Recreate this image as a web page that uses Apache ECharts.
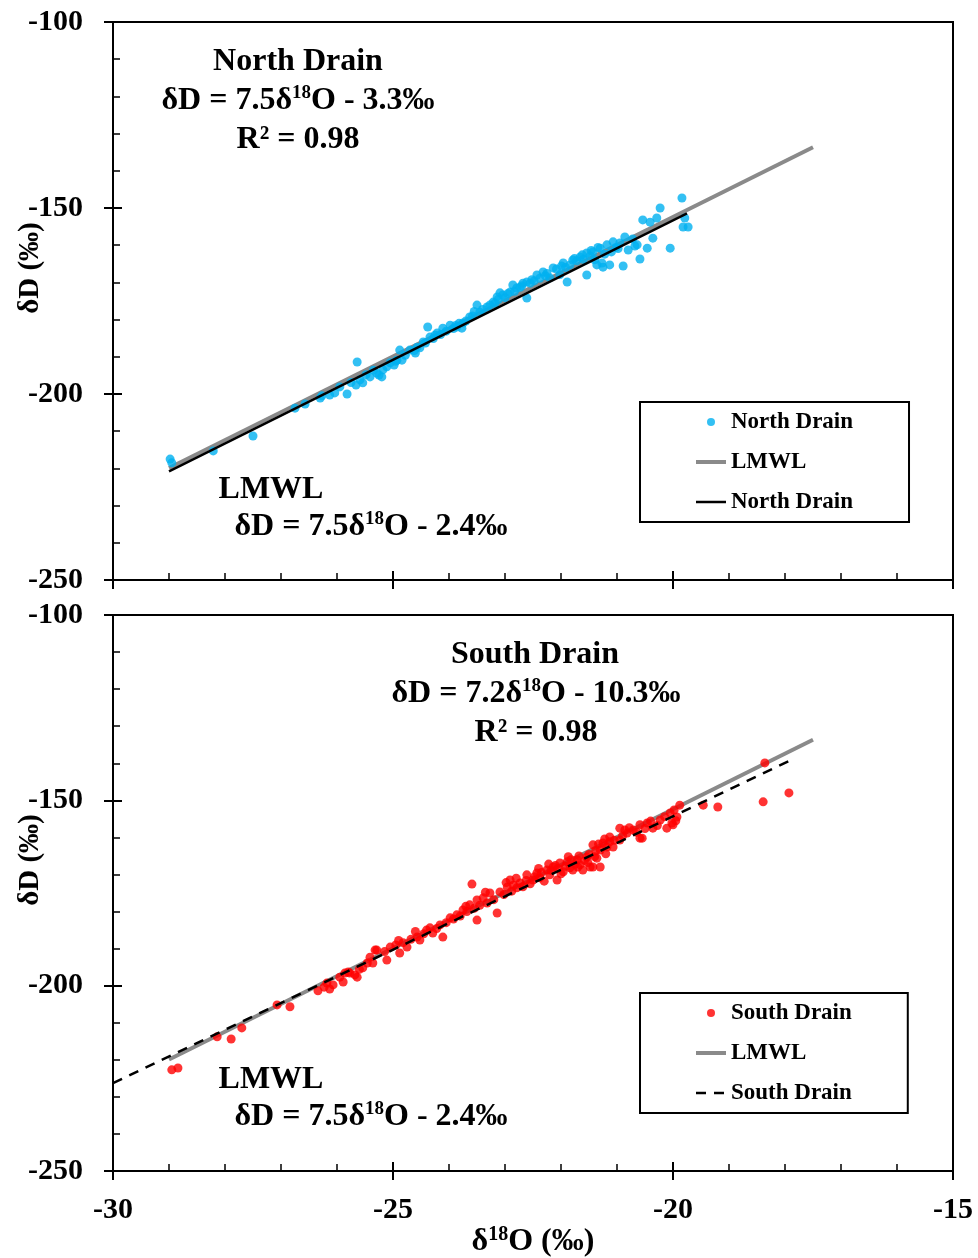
<!DOCTYPE html>
<html>
<head>
<meta charset="utf-8">
<script src="https://cdn.jsdelivr.net/npm/echarts@6/dist/echarts.min.js"></script>
<style>
  html, body { margin: 0; padding: 0; background: #fff; }
  #chart { width: 978px; height: 1258px; }
</style>
</head>
<body>
<div id="chart"></div>
<script>
// Stable isotope data (δ18O ‰, δD ‰) for the two drains
const northDrain = [
  [-28.98,-217.5],[-28.95,-218.5],[-28.21,-215.3],[-27.50,-211.3],[-26.75,-203.8],[-26.57,-202.7],
  [-26.30,-201.1],[-26.27,-200.5],[-26.13,-200.3],[-26.04,-199.7],[-25.82,-200.0],[-25.66,-197.6],
  [-25.64,-191.4],[-25.54,-197.0],[-25.59,-196.2],[-25.41,-195.4],[-25.29,-194.4],[-25.20,-195.4],
  [-25.18,-193.5],[-25.11,-192.7],[-24.93,-190.9],[-24.88,-188.2],[-24.84,-190.9],[-24.70,-188.2],
  [-24.57,-187.4],[-24.46,-186.0],[-24.38,-182.0],[-24.34,-184.7],[-24.21,-183.6],[-24.11,-182.3],
  [-23.98,-181.5],[-23.86,-182.0],[-23.77,-182.3],[-23.75,-180.9],[-23.63,-179.3],[-23.50,-176.1],
  [-23.45,-178.0],[-23.32,-176.6],[-23.21,-175.3],[-23.14,-173.9],[-23.09,-172.8],[-23.04,-173.4],
  [-22.91,-172.6],[-22.79,-171.5],[-22.68,-170.2],[-22.61,-174.2],[-22.86,-170.7],[-22.61,-169.9],
  [-22.43,-168.0],[-22.32,-167.2],[-22.14,-166.1],[-21.96,-164.8],[-21.89,-169.9],[-21.79,-164.0],
  [-21.66,-163.2],[-21.54,-162.1],[-21.54,-168.0],[-21.43,-161.8],[-21.36,-165.3],[-21.30,-160.8],
  [-21.25,-165.9],[-21.18,-159.9],[-21.13,-165.3],[-21.07,-159.1],[-20.89,-165.6],[-20.86,-157.8],
  [-20.80,-161.3],[-20.64,-159.9],[-20.59,-163.7],[-20.54,-153.2],[-20.46,-160.8],[-20.41,-153.8],
  [-20.36,-158.1],[-20.29,-152.7],[-20.23,-150.0],[-20.05,-160.8],[-19.84,-147.3],[-19.79,-152.7],
  [-19.82,-155.1],[-19.73,-155.1],
  [-25.95,-198.1],[-25.75,-196.9],[-25.48,-194.8],[-25.35,-193.6],[-25.05,-191.6],[-24.95,-191.2],
  [-24.78,-189.6],[-24.62,-188.3],[-24.52,-187.6],[-24.42,-186.3],[-24.28,-185.1],[-24.15,-184.0],
  [-24.05,-183.1],[-23.92,-182.4],[-23.82,-181.0],[-23.70,-180.4],[-23.58,-179.0],[-23.40,-177.3],
  [-23.27,-176.1],[-23.18,-175.6],[-23.00,-174.1],[-22.95,-173.0],[-22.83,-172.4],[-22.73,-171.3],
  [-22.55,-170.2],[-22.48,-169.6],[-22.38,-168.9],[-22.25,-167.6],[-22.20,-168.8],[-22.08,-166.4],
  [-22.02,-167.9],[-21.92,-166.0],[-21.84,-165.3],[-21.72,-164.2],[-21.60,-163.8],[-21.48,-162.9],
  [-21.40,-163.9],[-21.22,-162.4],[-21.02,-160.6],[-20.95,-159.4],[-20.72,-158.3],[-20.68,-160.2],
  [-25.25,-194.9],[-24.98,-192.2],[-24.60,-189.0],[-24.25,-184.2],[-23.88,-181.6],[-23.55,-177.8],
  [-23.12,-174.6],[-22.70,-170.9],[-22.52,-169.3],[-22.28,-168.2],[-21.99,-165.6],[-21.76,-163.6],
  [-21.62,-162.6],[-21.46,-161.4],[-21.34,-160.6],[-21.27,-164.8],[-21.10,-161.8],[-20.98,-160.9]
];

const southDrain = [
  [-28.95,-222.7],[-28.84,-222.2],[-28.14,-213.8],[-27.89,-214.4],[-27.70,-211.4],[-27.07,-205.2],
  [-26.84,-205.7],[-26.34,-201.4],[-26.23,-200.4],[-26.18,-199.3],[-26.13,-200.9],[-26.07,-199.8],
  [-25.89,-199.0],[-25.86,-196.6],[-25.80,-196.3],[-25.68,-197.1],[-25.54,-195.2],[-25.36,-193.9],
  [-25.11,-193.1],[-25.41,-192.3],[-25.32,-190.4],[-25.95,-197.7],[-25.77,-196.6],[-25.64,-197.7],
  [-25.46,-193.9],[-25.29,-190.4],[-25.05,-189.6],[-24.88,-191.2],[-24.75,-189.6],[-24.57,-186.9],
  [-24.52,-187.7],[-24.34,-184.4],[-24.29,-185.8],[-24.11,-186.9],[-24.16,-183.6],[-23.98,-181.7],
  [-23.86,-180.9],[-23.75,-179.6],[-23.63,-178.2],[-23.59,-172.6],[-23.50,-176.9],[-23.50,-182.3],
  [-23.39,-176.3],[-23.32,-177.7],[-23.27,-175.0],[-23.14,-180.4],[-23.09,-174.7],[-22.96,-173.4],
  [-22.91,-171.5],[-22.79,-173.6],[-22.73,-172.3],[-22.61,-170.1],[-22.50,-171.5],[-22.43,-169.6],
  [-22.38,-170.9],[-22.25,-168.8],[-22.20,-170.1],[-22.14,-168.0],[-22.07,-171.5],[-22.02,-166.9],
  [-21.96,-169.3],[-21.89,-166.6],[-21.84,-168.2],[-21.79,-168.8],[-21.71,-166.1],[-21.66,-167.4],
  [-21.61,-168.8],[-21.54,-165.3],[-21.48,-168.0],[-21.43,-162.0],[-21.43,-168.0],[-21.36,-165.6],
  [-21.30,-163.4],[-21.30,-168.0],[-21.18,-162.6],[-21.13,-161.2],[-21.07,-162.6],[-20.95,-157.5],
  [-20.95,-160.7],[-20.82,-158.8],[-20.71,-158.0],[-20.59,-156.6],[-20.59,-160.2],[-20.46,-156.1],
  [-20.36,-157.5],[-20.23,-155.3],[-20.11,-157.5],[-20.05,-153.4],[-20.00,-156.6],[-19.93,-154.5],
  [-19.88,-151.3],[-19.46,-151.3],[-19.20,-151.8],[-18.36,-139.9],[-18.39,-150.4],[-17.93,-148.0],
  [-21.25,-161.5],[-21.13,-159.9],[-20.55,-160.2],[-20.02,-156.1],
  [-24.95,-189.0],[-24.82,-188.4],[-24.68,-187.5],[-24.45,-186.0],[-24.40,-185.0],[-24.22,-184.6],
  [-24.05,-183.0],[-23.92,-182.0],[-23.80,-181.2],[-23.68,-180.0],[-23.55,-179.1],[-23.45,-178.3],
  [-23.20,-176.8],[-23.02,-175.4],[-22.88,-174.5],[-22.85,-172.9],[-22.68,-173.3],[-22.55,-172.5],
  [-22.47,-170.6],[-22.35,-169.5],[-22.30,-171.8],[-22.18,-168.9],[-22.10,-167.6],[-22.00,-169.8],
  [-21.92,-167.8],[-21.82,-166.0],[-21.75,-167.2],[-21.68,-165.0],[-21.58,-166.2],[-21.50,-164.6],
  [-21.40,-165.2],[-21.33,-161.8],[-21.20,-164.4],[-21.05,-160.8],[-20.90,-159.6],[-20.78,-157.4],
  [-20.65,-158.6],[-20.50,-157.6],[-20.40,-155.6],[-20.28,-156.8],[-20.15,-154.4],[-19.98,-152.6],
  [-19.95,-155.5],
  [-22.98,-172.2],[-22.80,-171.0],[-22.62,-171.6],[-22.40,-168.4],[-22.22,-167.2],[-22.05,-168.4],
  [-21.87,-165.2],[-21.70,-168.0],[-21.52,-166.8],[-21.38,-163.6],[-21.22,-160.4],[-20.86,-158.0],
  [-23.70,-178.6],[-23.35,-174.8],[-24.60,-185.4],[-24.90,-187.8],[-25.15,-190.8],[-25.60,-195.6]
];

// Regression lines: slope, intercept and δ18O extent
const lmwlFit = { slope: 7.5, intercept: -2.4 };
const northFit = { slope: 7.5, intercept: -3.3 };
const southFit = { slope: 7.2, intercept: -10.3 };
const lmwlRange = [-29, -17.5];
const northFitRange = [-29, -19.75];
const southFitRange = [-30, -17.9];

// Axis ranges
const xRange = [-30, -15];
const xStep = 5;
const yRange = [-250, -100];
const yStep = 50;

const legendLabels = {
  'North Drain': 'North Drain',
  'LMWL (north)': 'LMWL',
  'North Drain fit': 'North Drain',
  'South Drain': 'South Drain',
  'LMWL (south)': 'LMWL',
  'South Drain fit': 'South Drain'
};

const FONT = "'Liberation Serif', 'Times New Roman', serif";

function fitLine(fit, range) {
  return range.map(x => [x, fit.slope * x + fit.intercept]);
}

const chart = echarts.init(document.getElementById('chart'), null, { renderer: 'canvas' });

const grids = [
  { left: 113, top: 22, width: 840, height: 558 },
  { left: 113, top: 615, width: 840, height: 556 }
];

const axisLineStyle = { color: '#000', width: 2 };

function mainX(gridIndex, showLabels) {
  return {
    type: 'value', gridIndex, position: 'bottom', min: xRange[0], max: xRange[1], interval: xStep,
    axisLine: { show: true, onZero: false, lineStyle: axisLineStyle },
    axisTick: { show: true, inside: true, length: 9, lineStyle: axisLineStyle },
    minorTick: { show: true, splitNumber: 5, length: 7, lineStyle: { color: '#000', width: 1.5 } },
    splitLine: { show: false },
    axisLabel: { show: showLabels, fontFamily: FONT, fontWeight: 'bold', fontSize: 30, color: '#000', margin: 24 },
    name: showLabels ? '{b|δ}{s|18}{b|O (‰)}' : '',
    nameLocation: 'middle',
    nameGap: 54,
    nameMoveOverlap: false,
    nameTextStyle: {
      rich: {
        b: { fontFamily: FONT, fontWeight: 'bold', fontSize: 32, color: '#000', lineHeight: 34 },
        s: { fontFamily: FONT, fontWeight: 'bold', fontSize: 20, color: '#000', verticalAlign: 'top', lineHeight: 34 }
      }
    }
  };
}
function overlayX(gridIndex) {
  return {
    type: 'value', gridIndex, position: 'bottom', offset: 0, min: xRange[0], max: xRange[1], interval: xStep,
    axisLine: { show: false, onZero: false },
    axisTick: { show: true, inside: false, length: 9, lineStyle: axisLineStyle },
    axisLabel: { show: false }, splitLine: { show: false }
  };
}
function mainY(gridIndex) {
  return {
    type: 'value', gridIndex, position: 'left', min: yRange[0], max: yRange[1], interval: yStep,
    axisLine: { show: true, onZero: false, lineStyle: axisLineStyle },
    axisTick: { show: true, inside: true, length: 9, lineStyle: axisLineStyle },
    minorTick: { show: true, splitNumber: 5, length: 7, lineStyle: { color: '#000', width: 1.5 } },
    splitLine: { show: false },
    axisLabel: { fontFamily: FONT, fontWeight: 'bold', fontSize: 30, color: '#000', margin: 30 },
    name: 'δD (‰)',
    nameLocation: 'middle',
    nameGap: 68,
    nameMoveOverlap: false,
    nameTextStyle: { fontFamily: FONT, fontWeight: 'bold', fontSize: 29, color: '#000', padding: [0, 0, 0, 66] }
  };
}
function overlayY(gridIndex) {
  return {
    type: 'value', gridIndex, position: 'left', offset: 0, min: yRange[0], max: yRange[1], interval: yStep,
    axisLine: { show: false, onZero: false },
    axisTick: { show: true, inside: false, length: 9, lineStyle: axisLineStyle },
    axisLabel: { show: false }, splitLine: { show: false }
  };
}

// Legend: dot for the samples, line swatches for LMWL and the drain fit
function legendFor(top, names, widths) {
  return {
    left: 640, top, orient: 'vertical',
    data: names.map((n, i) => i === 0
      ? { name: n, icon: 'circle' }
      : { name: n, itemStyle: { opacity: 0 }, lineStyle: { width: widths[i] } }),
    formatter: n => legendLabels[n],
    itemWidth: 30, itemHeight: 8, itemGap: 16,
    padding: [8, 56, 8, 54],
    borderColor: '#000', borderWidth: 2,
    selectedMode: false,
    textStyle: { fontFamily: FONT, fontWeight: 'bold', fontSize: 23, color: '#000', lineHeight: 24 }
  };
}

function label(x, y, text) {
  return {
    type: 'text', x, y, z: 100,
    style: {
      text,
      align: 'center', verticalAlign: 'middle',
      rich: {
        m: { fontFamily: FONT, fontWeight: 'bold', fontSize: 32, fill: '#000', lineHeight: 34 },
        s: { fontFamily: FONT, fontWeight: 'bold', fontSize: 19, fill: '#000', verticalAlign: 'top', lineHeight: 34 }
      }
    }
  };
}

const option = {
  backgroundColor: '#fff',
  animation: false,
  textStyle: { fontFamily: FONT },
  grid: grids.map(g => Object.assign({
    show: true, borderColor: '#000', borderWidth: 2, backgroundColor: 'transparent',
    containLabel: false, outerBoundsMode: 'none'
  }, g)),
  xAxis: [mainX(0, false), overlayX(0), mainX(1, true), overlayX(1)],
  yAxis: [mainY(0), overlayY(0), mainY(1), overlayY(1)],
  legend: [
    legendFor(402, ['North Drain', 'LMWL (north)', 'North Drain fit'], [0, 4, 2.5]),
    legendFor(993, ['South Drain', 'LMWL (south)', 'South Drain fit'], [0, 4, 2.5])
  ],
  series: [
    { name: 'LMWL (north)', type: 'line', xAxisIndex: 0, yAxisIndex: 0, data: fitLine(lmwlFit, lmwlRange),
      symbol: 'none', lineStyle: { color: '#8a8a8a', width: 4 }, itemStyle: { color: '#8a8a8a' }, z: 1 },
    { name: 'North Drain', type: 'scatter', xAxisIndex: 0, yAxisIndex: 0, data: northDrain,
      symbolSize: 9, itemStyle: { color: '#00B0F0' }, z: 2 },
    { name: 'North Drain fit', type: 'line', xAxisIndex: 0, yAxisIndex: 0, data: fitLine(northFit, northFitRange),
      symbol: 'none', lineStyle: { color: '#000', width: 2.5 }, itemStyle: { color: '#000' }, z: 3 },

    { name: 'LMWL (south)', type: 'line', xAxisIndex: 2, yAxisIndex: 2, data: fitLine(lmwlFit, lmwlRange),
      symbol: 'none', lineStyle: { color: '#8a8a8a', width: 4 }, itemStyle: { color: '#8a8a8a' }, z: 1 },
    { name: 'South Drain', type: 'scatter', xAxisIndex: 2, yAxisIndex: 2, data: southDrain,
      symbolSize: 9, itemStyle: { color: '#FF0000' }, z: 2 },
    { name: 'South Drain fit', type: 'line', xAxisIndex: 2, yAxisIndex: 2, data: fitLine(southFit, southFitRange),
      symbol: 'none', lineStyle: { color: '#000', width: 2.5, type: [10, 8] }, itemStyle: { color: '#000' }, z: 3 }
  ],
  graphic: [
    label(298, 62, '{m|North Drain}'),
    label(298, 101, '{m|δD = 7.5δ}{s|18}{m|O - 3.3‰}'),
    label(298, 140, '{m|R² = 0.98}'),
    label(271, 490, '{m|LMWL}'),
    label(371, 527, '{m|δD = 7.5δ}{s|18}{m|O - 2.4‰}'),
    label(535, 655, '{m|South Drain}'),
    label(536, 694, '{m|δD = 7.2δ}{s|18}{m|O - 10.3‰}'),
    label(536, 733, '{m|R² = 0.98}'),
    label(271, 1080, '{m|LMWL}'),
    label(371, 1117, '{m|δD = 7.5δ}{s|18}{m|O - 2.4‰}')
  ]
};

chart.setOption(option);
</script>
</body>
</html>
